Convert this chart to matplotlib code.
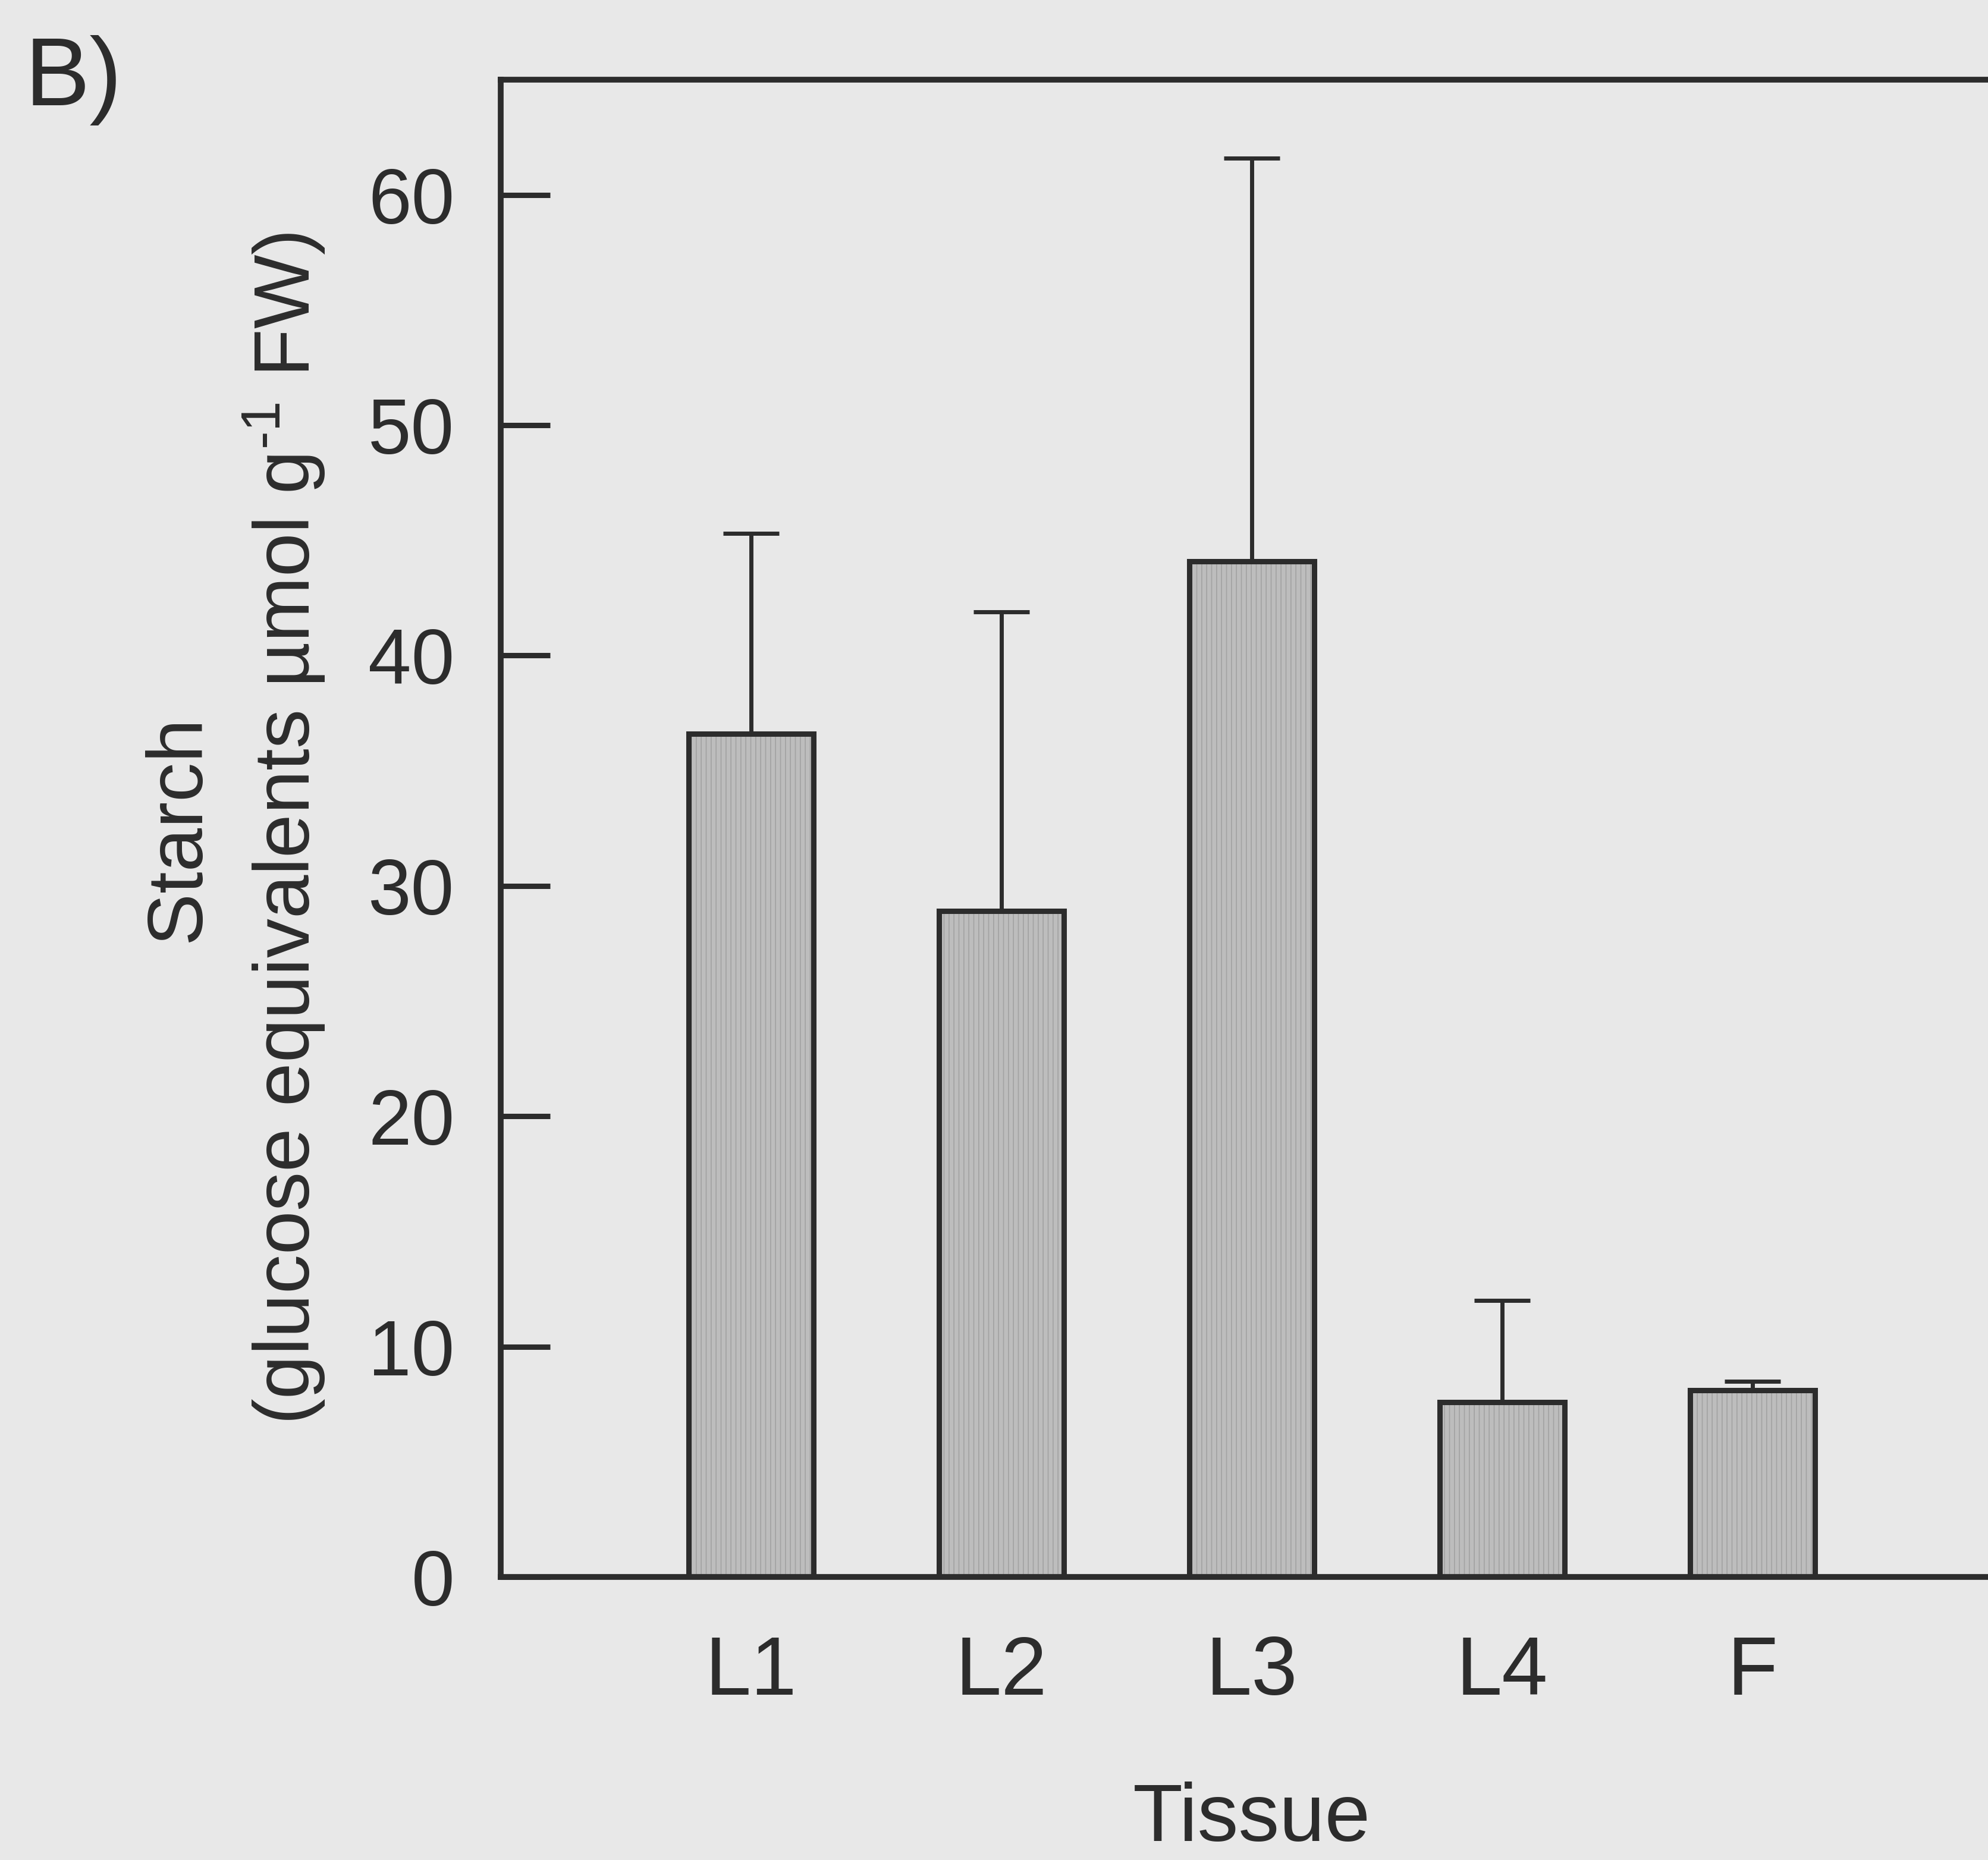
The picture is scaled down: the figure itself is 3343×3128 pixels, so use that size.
import matplotlib
matplotlib.use('Agg')
import matplotlib.pyplot as plt
import numpy as np

tissues = ['L1', 'L2', 'L3', 'L4', 'F']
starch = [36.6, 28.9, 44.1, 7.6, 8.1]
err_up = [8.7, 13.0, 17.5, 4.4, 0.4]

BG = '#e8e8e8'
INK = '#2c2c2c'

plt.rcParams['font.family'] = ['Liberation Sans', 'DejaVu Sans']
plt.rcParams['mathtext.fontset'] = 'custom'
plt.rcParams['mathtext.rm'] = 'Liberation Sans'
plt.rcParams['mathtext.it'] = 'Liberation Sans'
plt.rcParams['hatch.linewidth'] = 1.2

fig = plt.figure(figsize=(33.43, 31.28), dpi=100, facecolor=BG)
ax = fig.add_axes([0.2519, 0.1522, 0.7556, 0.805], facecolor=BG)

x = np.arange(1, len(tissues) + 1)
# fill with a fine vertical screen, then the dark outline on top
ax.bar(x, starch, width=0.5, color='#bdbdbd', edgecolor='#a2a2a2', hatch='||',
       linewidth=0, zorder=2)
ax.bar(x, starch, width=0.5, facecolor='none', edgecolor=INK, linewidth=6.5, zorder=3)
ax.errorbar(x, starch, yerr=[np.zeros(len(x)), err_up], fmt='none', ecolor=INK,
            elinewidth=5, capsize=34, capthick=5, zorder=1)

ax.set_xlim(0, 6)
ax.set_ylim(0, 65)
ax.set_xticks(x)
ax.set_xticklabels(tissues)
ax.set_yticks(range(0, 61, 10))
ax.tick_params(axis='y', direction='in', length=60, width=6.5, color=INK, pad=56,
               labelsize=94, labelcolor=INK)
ax.tick_params(axis='x', length=0, pad=70, labelsize=100, labelcolor=INK)
for s in ax.spines.values():
  s.set_linewidth(7)
  s.set_color(INK)

ax.set_ylabel('Starch\n(glucose equivalents µmol g$^{\u2010 1}$ FW)', fontsize=95,
              color=INK, labelpad=50, linespacing=1.38)
ax.set_xlabel('Tissue', fontsize=99, color=INK, labelpad=84)

fig.text(0.0123, 0.9434, 'B)', fontsize=118, color=INK, ha='left', va='baseline')

fig.savefig('out.png', dpi=100, facecolor=BG)
